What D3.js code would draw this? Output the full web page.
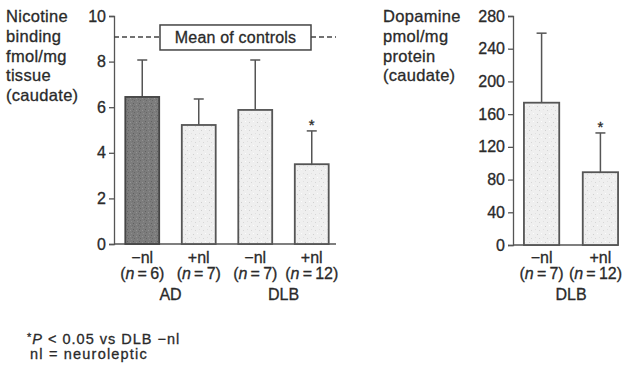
<!DOCTYPE html>
<html>
<head>
<meta charset="utf-8">
<script src="https://cdn.jsdelivr.net/npm/d3@7"></script>
<style>
    body { margin: 0; background: #fff; }
    svg text { font-family: "Liberation Sans", Arial, sans-serif; fill: #2a2a2a; stroke: #2a2a2a; stroke-width: 0.3px; }
</style>
</head>
<body>
<div id="chart"></div>
<script>
// nicotine binding panel
const nicCategories = ["AD-", "AD+", "DLB-", "DLB+"];
const nicValues = [6.45, 5.22, 5.88, 3.5];
const nicErrors = [8.07, 6.36, 8.07, 4.96];
const nicSign = ["\u2212nl", "+nl", "\u2212nl", "+nl"];
const nicN = ["6", "7", "7", "12"];
const nicStar = [false, false, false, true];
const nicGroups = [{ label: "AD", cats: ["AD-", "AD+"] }, { label: "DLB", cats: ["DLB-", "DLB+"] }];
const nicTicks = [0, 2, 4, 6, 8, 10];
const controlMean = 9.08;
const nicTitle = ["Nicotine", "binding", "fmol/mg", "tissue", "(caudate)"];

// dopamine panel
const dopCategories = ["DLB-", "DLB+"];
const dopValues = [174, 89];
const dopErrors = [259, 137];
const dopSign = ["\u2212nl", "+nl"];
const dopN = ["7", "12"];
const dopStar = [false, true];
const dopTicks = [0, 40, 80, 120, 160, 200, 240, 280];
const dopTitle = ["Dopamine", "pmol/mg", "protein", "(caudate)"];

const footnotes = ["P", " < 0.05 vs DLB \u2212nl", "nl = neuroleptic"];

const W = 624, H = 365;
const svg = d3.select("#chart").append("svg")
    .attr("width", W).attr("height", H);

// stipple textures
const defs = svg.append("defs");
const dark = defs.append("pattern").attr("id", "darkDots")
    .attr("patternUnits", "userSpaceOnUse").attr("width", 6).attr("height", 6);
dark.append("rect").attr("width", 6).attr("height", 6).attr("fill", "#7c7c7c");
[[1, 1, "#606060"], [4, 2, "#939393"], [2, 4, "#666"], [5, 5, "#8c8c8c"], [0, 3, "#6e6e6e"]].forEach(p => {
    dark.append("rect").attr("x", p[0]).attr("y", p[1]).attr("width", 1).attr("height", 1).attr("fill", p[2]);
});
const light = defs.append("pattern").attr("id", "lightDots")
    .attr("patternUnits", "userSpaceOnUse").attr("width", 8).attr("height", 8);
light.append("rect").attr("width", 8).attr("height", 8).attr("fill", "#efefef");
[[1, 2, "#cfcfcf"], [5, 1, "#fdfdfd"], [3, 6, "#d6d6d6"], [7, 5, "#e0e0e0"]].forEach(p => {
    light.append("rect").attr("x", p[0]).attr("y", p[1]).attr("width", 1).attr("height", 1).attr("fill", p[2]);
});

function drawPanel(o) {
    const g = svg.append("g");
    const y = d3.scaleLinear().domain([0, o.max]).range([o.y0, o.y1]);
    const x = d3.scaleBand().domain(o.cats).range([o.x0, o.x1])
        .paddingInner(0.4).paddingOuter(o.outer);

    // y axis
    const yAxis = d3.axisLeft(y).tickValues(o.ticks).tickSize(5).tickPadding(3);
    const ag = g.append("g").attr("transform", `translate(${o.x0},0)`).call(yAxis);
    ag.select(".domain").attr("stroke", "#555").attr("stroke-width", 1.3);
    ag.selectAll(".tick line").attr("stroke", "#555").attr("stroke-width", 1.3);
    ag.selectAll(".tick text").attr("font-size", 16).attr("fill", "#2a2a2a")
        .style("font-family", "'Liberation Sans', Arial, sans-serif");

    // baseline
    g.append("line")
        .attr("x1", o.x0).attr("x2", o.baseEnd)
        .attr("y1", y(0)).attr("y2", y(0))
        .attr("stroke", "#555").attr("stroke-width", 1.5);

    // error bars
    o.cats.forEach((c, i) => {
        const cx = x(c) + x.bandwidth() / 2;
        g.append("line").attr("x1", cx).attr("x2", cx)
            .attr("y1", y(o.values[i])).attr("y2", y(o.errors[i]))
            .attr("stroke", "#555").attr("stroke-width", 1.5);
        g.append("line").attr("x1", cx - 5).attr("x2", cx + 5)
            .attr("y1", y(o.errors[i])).attr("y2", y(o.errors[i]))
            .attr("stroke", "#555").attr("stroke-width", 1.5);
        if (o.star[i]) {
            g.append("text").attr("x", cx).attr("y", y(o.errors[i]) - 1)
                .attr("text-anchor", "middle").attr("font-size", 15).text("*");
        }
    });

    // bars
    g.selectAll(".bar").data(o.cats).enter().append("rect")
        .attr("class", "bar")
        .attr("x", d => x(d))
        .attr("y", (d, i) => y(o.values[i]))
        .attr("width", x.bandwidth())
        .attr("height", (d, i) => y(0) - y(o.values[i]))
        .attr("fill", (d, i) => o.fills[i])
        .attr("stroke", (d, i) => i === 0 && o.darkFirst ? "#454545" : "#555")
        .attr("stroke-width", 1.8);

    // category labels
    o.cats.forEach((c, i) => {
        const cx = x(c) + x.bandwidth() / 2;
        g.append("text").attr("x", cx).attr("y", 263)
            .attr("text-anchor", "middle").attr("font-size", 16).text(o.sign[i]);
        const t = g.append("text").attr("x", cx).attr("y", 279)
            .attr("text-anchor", "middle").attr("font-size", 16);
        t.append("tspan").text("(");
        t.append("tspan").attr("font-style", "italic").text("n");
        t.append("tspan").text("\u2009=\u2009" + o.n[i] + ")");
        // keep the label inside the picture
        const bb = t.node().getBBox();
        if (bb.x + bb.width > W - 2) t.attr("x", cx - (bb.x + bb.width - (W - 2)));
    });
    o.groups.forEach(gr => {
        const a = x(gr.cats[0]), b = x(gr.cats[gr.cats.length - 1]) + x.bandwidth();
        g.append("text").attr("x", (a + b) / 2).attr("y", 300)
            .attr("text-anchor", "middle").attr("font-size", 16).text(gr.label);
    });

    // axis title
    const tt = g.append("text").attr("font-size", 16.5).attr("letter-spacing", 0.3);
    o.title.forEach((l, i) => {
        tt.append("tspan").attr("x", o.titleX).attr("y", 22 + i * 19.8).text(l);
    });

    return { x, y, g };
}

const nic = drawPanel({
    cats: nicCategories, values: nicValues, errors: nicErrors, sign: nicSign, n: nicN,
    star: nicStar, groups: nicGroups, ticks: nicTicks, title: nicTitle,
    max: 10, y0: 244, y1: 16, x0: 114, x1: 340, outer: 0.2, baseEnd: 336, titleX: 6,
    fills: ["url(#darkDots)", "url(#lightDots)", "url(#lightDots)", "url(#lightDots)"], darkFirst: true
});

// mean of controls reference line with label box
const my = nic.y(controlMean);
const boxL = 160, boxR = 311;
[[114, boxL], [boxR, 336]].forEach(s => {
    nic.g.append("line").attr("x1", s[0]).attr("x2", s[1]).attr("y1", my).attr("y2", my)
        .attr("stroke", "#444").attr("stroke-width", 1.3).attr("stroke-dasharray", "5,3");
});
nic.g.append("rect").attr("x", boxL).attr("y", my - 12).attr("width", boxR - boxL).attr("height", 25)
    .attr("fill", "#fff").attr("stroke", "#444").attr("stroke-width", 1.5);
nic.g.append("text").attr("x", (boxL + boxR) / 2).attr("y", my + 6)
    .attr("text-anchor", "middle").attr("font-size", 16).attr("letter-spacing", 0.2).text("Mean of controls");

drawPanel({
    cats: dopCategories, values: dopValues, errors: dopErrors, sign: dopSign, n: dopN,
    star: dopStar, groups: [{ label: "DLB", cats: dopCategories }], ticks: dopTicks, title: dopTitle,
    max: 280, y0: 245, y1: 16, x0: 513, x1: 629, outer: 0.186, baseEnd: 618, titleX: 383,
    fills: ["url(#lightDots)", "url(#lightDots)"], darkFirst: false
});

// footnotes
const f1 = svg.append("text").attr("x", 27).attr("y", 344).attr("font-size", 14.5).attr("letter-spacing", 1);
f1.append("tspan").attr("font-size", 11).attr("dy", -3).text("*");
f1.append("tspan").attr("font-style", "italic").attr("dy", 3).text(footnotes[0]);
f1.append("tspan").text(footnotes[1]);
svg.append("text").attr("x", 30).attr("y", 359).attr("font-size", 14.5).attr("letter-spacing", 1.2).text(footnotes[2]);
</script>
</body>
</html>
